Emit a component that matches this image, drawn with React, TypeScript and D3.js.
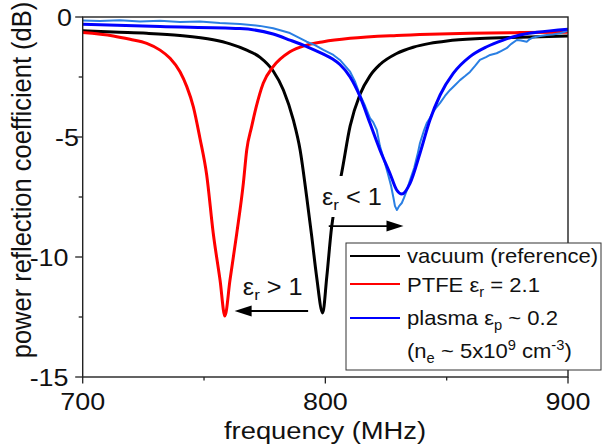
import React from "react";
import * as d3 from "d3";

// ---------- data ----------
const vacuumFreq = [700, 712.6, 726.4, 740.1, 753.8, 760.7, 767.6, 773.1, 778.5, 782.7, 786.8, 789.6, 792.3, 794.4, 796.4, 798.9, 800.6, 802.6, 804.7, 806.7, 810.2, 814.3, 818.4, 822.5, 829.4, 836.2, 843.1, 850.1, 863.7, 880.2, 900];
const vacuumDb = [-0.57, -0.63, -0.68, -0.77, -0.95, -1.12, -1.38, -1.68, -2.25, -3.04, -4.29, -5.54, -7.49, -9.15, -10.82, -12.33, -10.82, -8.74, -7.49, -6.51, -4.55, -3.22, -2.45, -1.98, -1.52, -1.26, -1.1, -1.0, -0.9, -0.84, -0.79];

const ptfeFreq = [700, 712.6, 719.5, 726.4, 731.9, 736.0, 740.1, 742.9, 745.6, 748.3, 751.1, 753.8, 756.6, 758.6, 760.7, 763.5, 766.2, 767.6, 769.6, 771.4, 774.4, 778.5, 785.4, 792.3, 799.2, 810.2, 829.4, 843.1, 859.6, 880.2, 900];
const ptfeDb = [-0.65, -0.79, -0.93, -1.1, -1.38, -1.72, -2.28, -2.9, -3.74, -5.04, -6.58, -9.01, -10.96, -12.46, -10.96, -9.01, -6.93, -5.54, -4.58, -3.79, -2.76, -2.07, -1.45, -1.17, -1.03, -0.89, -0.77, -0.72, -0.68, -0.65, -0.63];

const plasmaFitFreq = [700, 731.9, 764.8, 778.5, 785.4, 792.3, 799.2, 803.0, 806.0, 810.2, 814.3, 818.4, 822.5, 826.6, 829.4, 831.5, 834.9, 839.0, 843.1, 847.3, 852.7, 859.6, 866.5, 873.3, 880.2, 887.1, 900];
const plasmaFitDb = [-0.3, -0.4, -0.48, -0.71, -0.96, -1.23, -1.55, -1.75, -1.98, -2.5, -3.32, -4.43, -5.54, -6.51, -7.21, -7.38, -6.93, -5.68, -4.29, -3.25, -2.35, -1.65, -1.24, -0.96, -0.75, -0.64, -0.51];

const plasmaMeasFreq = [700, 707.1, 715.4, 723.6, 731.9, 740.1, 748.3, 756.5, 764.8, 773.0, 778.5, 785.4, 792.3, 795.7, 799.2, 803.3, 806.0, 810.2, 812.3, 814.3, 816.4, 818.4, 819.7, 821.2, 822.5, 824.2, 825.8, 827.1, 828.0, 828.7, 829.5, 830.4, 831.5, 832.4, 833.6, 834.9, 836.6, 838.2, 839.0, 840.7, 841.8, 843.1, 844.4, 845.6, 847.3, 849.3, 851.4, 853.5, 855.5, 857.6, 859.6, 861.7, 863.7, 866.2, 867.9, 870.6, 872.4, 874.7, 876.5, 878.9, 880.6, 883.0, 884.3, 885.7, 888.5, 891.2, 893.8, 896.7, 900];
const plasmaMeasDb = [-0.15, -0.17, -0.14, -0.19, -0.16, -0.21, -0.19, -0.25, -0.29, -0.37, -0.47, -0.67, -1.03, -1.17, -1.37, -1.58, -1.79, -2.28, -2.71, -3.25, -3.71, -4.21, -4.38, -4.71, -5.38, -5.96, -6.54, -7.04, -7.5, -7.88, -8.04, -7.88, -7.75, -7.54, -7.21, -6.79, -6.29, -5.63, -5.25, -4.71, -4.42, -4.21, -3.96, -3.79, -3.58, -3.29, -3.04, -2.83, -2.63, -2.46, -2.29, -2.04, -1.79, -1.67, -1.58, -1.51, -1.42, -1.3, -1.13, -0.96, -0.98, -1.03, -0.92, -0.85, -0.79, -0.75, -0.73, -0.68, -0.57];

const xTicksMajor = [700, 800, 900];
const xTicksMinor = [750, 850];
const yTicksMajor = [0, -5, -10, -15];
const yTicksMinor = [-2.5, -7.5, -12.5];
const yTickLabels = ["0", "-5", "-10", "-15"];
const xTickLabels = ["700", "800", "900"];

// annotations in data units: [fromFreq, toFreq, dB]
const arrowLeft = [792.9, 762.6, -12.25];
const arrowRight = [801.4, 832.2, -8.71];

// ---------- layout ----------
const W = 605;
const H = 446;
const plot = { left: 82.7, right: 568, top: 17, bottom: 377 };
const FONT = "'Liberation Sans', Arial, Helvetica, sans-serif";
const yLabelRight: Record<string, number> = { "0": 72, "-5": 79, "-10": 68.5, "-15": 68.5 };

export default function App() {
  const x = d3.scaleLinear().domain([700, 900]).range([plot.left, plot.right]);
  const y = d3.scaleLinear().domain([-15, 0]).range([plot.bottom, plot.top]);

  const smooth = d3
    .line<[number, number]>()
    .x((d) => x(d[0]))
    .y((d) => y(d[1]))
    .curve(d3.curveMonotoneX);
  const raw = d3
    .line<[number, number]>()
    .x((d) => x(d[0]))
    .y((d) => y(d[1]))
    .curve(d3.curveLinear);

  const zip = (a: number[], b: number[]) => a.map((v, i) => [v, b[i]] as [number, number]);

  const vac = smooth(zip(vacuumFreq, vacuumDb)) || "";
  const ptfe = smooth(zip(ptfeFreq, ptfeDb)) || "";
  const fit = smooth(zip(plasmaFitFreq, plasmaFitDb)) || "";
  const meas = raw(zip(plasmaMeasFreq, plasmaMeasDb)) || "";

  const arrow = (a: number[], key: string) => {
    const x1 = x(a[0]);
    const x2 = x(a[1]);
    const yy = y(a[2]);
    const dir = Math.sign(x2 - x1);
    const headL = 17;
    const headW = 5.5;
    return (
      <g key={key}>
        <line x1={x1} y1={yy} x2={x2 - dir * headL * 0.8} y2={yy} stroke="#000" strokeWidth={1.8} />
        <polygon
          points={`${x2},${yy} ${x2 - dir * headL},${yy - headW} ${x2 - dir * headL},${yy + headW}`}
          fill="#000"
        />
      </g>
    );
  };

  const legendX = 346;
  const legendY = 243;
  const legendW = 255;
  const legendH = 127;
  const legendItems = [
    { color: "#000000", ly: 256 },
    { color: "#FF0000", ly: 284 },
    { color: "#0000FF", ly: 318 },
  ];

  return (
    <svg width={W} height={H} style={{ position: "absolute", left: 0, top: 0, background: "#fff" }} fontFamily={FONT}>
      <rect x={0} y={0} width={W} height={H} fill="#fff" />
      <defs>
        <clipPath id="plotclip">
          <rect x={plot.left} y={plot.top} width={plot.right - plot.left} height={plot.bottom - plot.top} />
        </clipPath>
      </defs>

      {/* curves */}
      <g clipPath="url(#plotclip)" fill="none" strokeLinejoin="round" strokeLinecap="round">
        <path d={vac} stroke="#000000" strokeWidth={3} />
        <path d={ptfe} stroke="#FF0000" strokeWidth={3} />
        <path d={meas} stroke="#2A7FE3" strokeWidth={2} />
        <path d={fit} stroke="#0000FF" strokeWidth={3} />
      </g>

      {/* frame */}
      <rect
        x={plot.left}
        y={plot.top}
        width={plot.right - plot.left}
        height={plot.bottom - plot.top}
        fill="none"
        stroke="#222"
        strokeWidth={1.4}
      />

      {/* x ticks */}
      {xTicksMajor.map((t) => (
        <line key={"xM" + t} x1={x(t)} x2={x(t)} y1={plot.bottom} y2={plot.bottom + 6.5} stroke="#222" strokeWidth={1.3} />
      ))}
      {xTicksMinor.map((t) => (
        <line key={"xm" + t} x1={x(t)} x2={x(t)} y1={plot.bottom} y2={plot.bottom + 3.5} stroke="#222" strokeWidth={1.3} />
      ))}
      {xTicksMajor.map((t, i) => (
        <text
          key={"xl" + t}
          transform={`translate(${x(t)},410) scale(1.12,1)`}
          textAnchor="middle"
          fontSize={24}
          fill="#111"
        >
          {xTickLabels[i]}
        </text>
      ))}

      {/* y ticks */}
      {yTicksMajor.map((t) => (
        <line key={"yM" + t} x1={plot.left - 7.5} x2={plot.left} y1={y(t)} y2={y(t)} stroke="#222" strokeWidth={1.3} />
      ))}
      {yTicksMinor.map((t) => (
        <line key={"ym" + t} x1={plot.left - 4} x2={plot.left} y1={y(t)} y2={y(t)} stroke="#222" strokeWidth={1.3} />
      ))}
      {yTicksMajor.map((t, i) => (
        <text
          key={"yl" + t}
          transform={`translate(${yLabelRight[yTickLabels[i]]},${y(t) + 8.7}) scale(1.12,1)`}
          textAnchor="end"
          fontSize={24}
          fill="#111"
        >
          {yTickLabels[i]}
        </text>
      ))}

      {/* axis titles */}
      <text transform={`translate(325,439) scale(1.14,1)`} textAnchor="middle" fontSize={24} fill="#111">
        frequency (MHz)
      </text>
      <text
        transform={`translate(30.5,180) scale(1.12,1) rotate(-90)`}
        textAnchor="middle"
        fontSize={25.5}
        fill="#111"
      >
        power reflection coefficient (dB)
      </text>

      {/* annotation: eps_r < 1 (with white background) */}
      <rect x={320} y={176} width={65} height={41} fill="#fff" />
      <text transform={`translate(${x(798.6)},${y(-7.83)}) scale(1.1,1)`} fontSize={23} fill="#111">
        ε<tspan fontSize={15.5} dy={5}>r</tspan>
        <tspan dy={-5}> &lt; 1</tspan>
      </text>
      {arrow(arrowRight, "ar")}

      <text transform={`translate(${x(766.0)},${y(-11.58)}) scale(1.1,1)`} fontSize={23} fill="#111">
        ε<tspan fontSize={15.5} dy={5}>r</tspan>
        <tspan dy={-5}> &gt; 1</tspan>
      </text>
      {arrow(arrowLeft, "al")}

      {/* legend */}
      <rect x={legendX} y={legendY} width={legendW} height={legendH} fill="#fff" stroke="#333" strokeWidth={1} />
      {legendItems.map((it) => (
        <line key={it.color} x1={350} x2={400} y1={it.ly} y2={it.ly} stroke={it.color} strokeWidth={2.2} />
      ))}
      <g fontSize={21} fill="#111">
        <text transform={`translate(407,263.3) scale(1.05,1)`}>vacuum (reference)</text>
        <text transform={`translate(407,291.7) scale(1.05,1)`}>
          PTFE ε<tspan fontSize={14} dy={5}>r</tspan>
          <tspan dy={-5}> = 2.1</tspan>
        </text>
        <text transform={`translate(407,325) scale(1.05,1)`}>
          plasma ε<tspan fontSize={14} dy={5}>p</tspan>
          <tspan dy={-5}> ~ 0.2</tspan>
        </text>
        <text transform={`translate(407,358) scale(1.05,1)`}>
          (n<tspan fontSize={14} dy={5}>e</tspan>
          <tspan dy={-5}> ~ 5x10</tspan>
          <tspan fontSize={14} dy={-8}>9</tspan>
          <tspan dy={8}> cm</tspan>
          <tspan fontSize={14} dy={-8}>-3</tspan>
          <tspan dy={8}>)</tspan>
        </text>
      </g>
    </svg>
  );
}
